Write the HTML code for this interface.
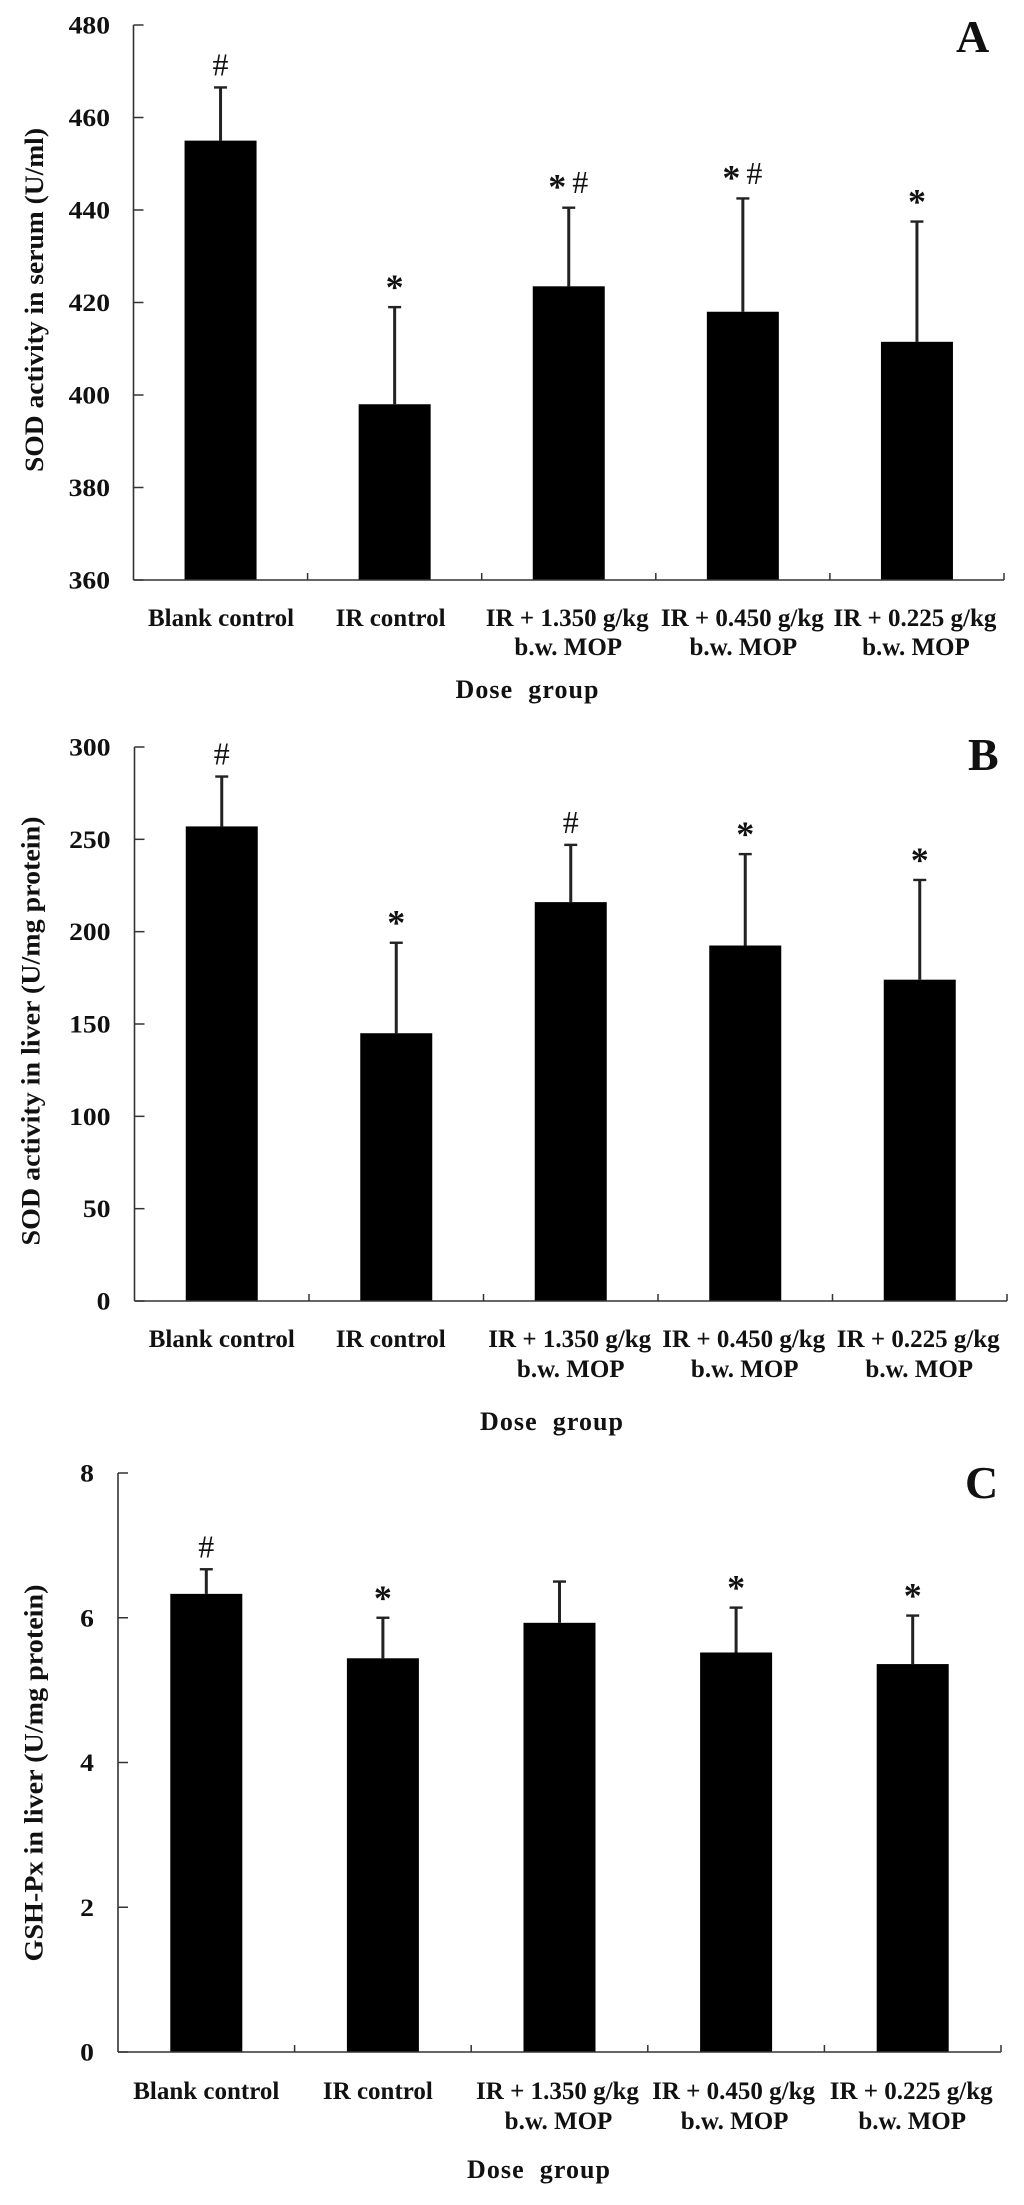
<!DOCTYPE html>
<html lang="en">
<head>
<meta charset="utf-8">
<title>Dose group bar charts</title>
<style>
html,body{margin:0;padding:0;background:#fff;width:1024px;height:2205px;overflow:hidden}
svg{display:block}
text{font-family:"Liberation Serif",serif;fill:#111;white-space:pre}
.b{font-weight:bold}
</style>
</head>
<body>
<svg id="fig" xmlns="http://www.w3.org/2000/svg" width="1024" height="2205" viewBox="0 0 1024 2205"></svg>
<script>
const categories = ["Blank control", "IR control", "IR + 1.350 g/kg", "IR + 0.450 g/kg", "IR + 0.225 g/kg"];
const categorySublines = ["", "", "b.w. MOP", "b.w. MOP", "b.w. MOP"];

const valuesA = [455, 398, 423.5, 418, 411.5];
const errorTopsA = [466.5, 419, 440.5, 442.5, 437.5];
const marksA = ["#", "*", "*#", "*#", "*"];
const ticksA = [360, 380, 400, 420, 440, 460, 480];

const valuesB = [257, 145, 216, 192.5, 174];
const errorTopsB = [284, 194, 247, 242, 228];
const marksB = ["#", "*", "#", "*", "*"];
const ticksB = [0, 50, 100, 150, 200, 250, 300];

const valuesC = [6.33, 5.44, 5.93, 5.52, 5.36];
const errorTopsC = [6.67, 6.0, 6.5, 6.14, 6.03];
const marksC = ["#", "*", "", "*", "*"];
const ticksC = [0, 2, 4, 6, 8];

const NS = "http://www.w3.org/2000/svg";
const root = document.getElementById("fig");

function make(parent, tag, attrs, txt) {
  const el = document.createElementNS(NS, tag);
  for (const k in attrs) el.setAttribute(k, attrs[k]);
  if (txt !== undefined) el.textContent = txt;
  parent.appendChild(el);
  return el;
}

function drawPanel(p) {
  const g = make(root, "g", {});
  
  

  const min = p.ticks[0];
  const max = p.ticks[p.ticks.length - 1];
  const y = v => p.bottom + (v - min) / (max - min) * (p.top - p.bottom);
  const band = (p.right - p.left) / p.categories.length;
  const x = i => p.left + band * (i + 0.5);

  p.values.forEach((v, i) => {
    const cx = x(i);
    const capY = y(p.errorTops[i]);

    const stem = make(g, "line", {x1: cx, x2: cx, y1: capY, y2: y(v), stroke: "#222", "stroke-width": 3});
    
    

    const cap = make(g, "line", {x1: cx - 6.5, x2: cx + 6.5, y1: capY, y2: capY, stroke: "#222", "stroke-width": 2.4});
    
    

    const bar = make(g, "rect", {x: cx - p.barWidth / 2, y: y(v), width: p.barWidth, height: y(min) - y(v), fill: "#000"});
    
    

    const mark = p.marks[i];
    const both = mark.length === 2;
    if (mark.includes("*")) {
      const star = make(g, "text", {x: both ? cx - 11.5 : cx, y: capY - (both ? 9 : 8), "text-anchor": "middle", "font-size": 36, class: "b"}, "*");
      
      
    }
    if (mark.includes("#")) {
      const hash = make(g, "text", {x: both ? cx + 11.5 : cx, y: capY - (both ? 14.5 : 12), "text-anchor": "middle", "font-size": 32}, "#");
      
      
    }

    const label = make(g, "text", {x: cx + p.labelNudge[i], y: p.line1, "text-anchor": "middle", "font-size": 25, class: "b"}, p.categories[i]);
    
    

    if (p.sublines[i]) {
      const sub = make(g, "text", {x: cx + p.labelNudge[i] + 1, y: p.line2, "text-anchor": "middle", "font-size": 25, class: "b"}, p.sublines[i]);
      
      
    }
  });

  const yAxis = make(g, "line", {x1: p.left, x2: p.left, y1: p.top, y2: p.bottom, stroke: "#333", "stroke-width": 1.6});
  
  

  const xAxis = make(g, "line", {x1: p.left, x2: p.right, y1: p.bottom, y2: p.bottom, stroke: "#333", "stroke-width": 1.6});
  
  

  p.ticks.forEach(t => {
    const tick = make(g, "line", {x1: p.left, x2: p.left + 10, y1: y(t), y2: y(t), stroke: "#333", "stroke-width": 1.5});
    
    

    const s = String(t);
    const tl = make(g, "text", {x: p.tickRight, y: y(t) + 8.5, "text-anchor": "end", "font-size": 25, class: "b", textLength: s.length * 13.8, lengthAdjust: "spacingAndGlyphs"}, s);
    
    
  });

  for (let i = 1; i <= p.categories.length; i++) {
    const tx = p.left + band * i;
    const tick = make(g, "line", {x1: tx, x2: tx, y1: p.bottom, y2: p.bottom - 7, stroke: "#333", "stroke-width": 1.5});
    
    
  }

  const yTitle = make(g, "text", {transform: "translate(" + p.yTitleX + "," + p.yTitleY + ") rotate(-90)", "text-anchor": "middle", "font-size": 26, class: "b", textLength: p.yTitleLen, lengthAdjust: "spacingAndGlyphs"}, p.yTitle);
  
  

  const xTitle = make(g, "text", {x: p.xTitleX, y: p.xTitleY, "text-anchor": "middle", "font-size": 26, class: "b", textLength: 143, lengthAdjust: "spacing"}, "Dose  group");
  
  

  const letter = make(g, "text", {x: p.letterX, y: p.letterY, "font-size": 46, class: "b"}, p.letter);
  
  
}

drawPanel({
  letter: "A", values: valuesA, errorTops: errorTopsA, marks: marksA, ticks: ticksA,
  categories: categories, sublines: categorySublines,
  left: 133.5, right: 1004, top: 25, bottom: 580, barWidth: 72, tickRight: 110,
  labelNudge: [0.5, -4, -1.5, -0.5, -2], line1: 626, line2: 655,
  yTitle: "SOD activity in serum (U/ml)", yTitleX: 43, yTitleY: 300, yTitleLen: 344,
  xTitleX: 527, xTitleY: 698, letterX: 956, letterY: 52
});

drawPanel({
  letter: "B", values: valuesB, errorTops: errorTopsB, marks: marksB, ticks: ticksB,
  categories: categories, sublines: categorySublines,
  left: 134.5, right: 1007, top: 747, bottom: 1301, barWidth: 72, tickRight: 110.5,
  labelNudge: [0, -5.5, -1, -1.5, -1.5], line1: 1347, line2: 1377,
  yTitle: "SOD activity in liver (U/mg protein)", yTitleX: 39.5, yTitleY: 1031, yTitleLen: 429,
  xTitleX: 551.5, xTitleY: 1430, letterX: 968, letterY: 770
});

drawPanel({
  letter: "C", values: valuesC, errorTops: errorTopsC, marks: marksC, ticks: ticksC,
  categories: categories, sublines: categorySublines,
  left: 118, right: 1001, top: 1473, bottom: 2052, barWidth: 72, tickRight: 94,
  labelNudge: [0, -5, -2, -2.5, -1.5], line1: 2099, line2: 2129,
  yTitle: "GSH-Px in liver (U/mg protein)", yTitleX: 42.5, yTitleY: 1773, yTitleLen: 377,
  xTitleX: 538.5, xTitleY: 2178, letterX: 965, letterY: 1498
});
</script>
</body>
</html>
